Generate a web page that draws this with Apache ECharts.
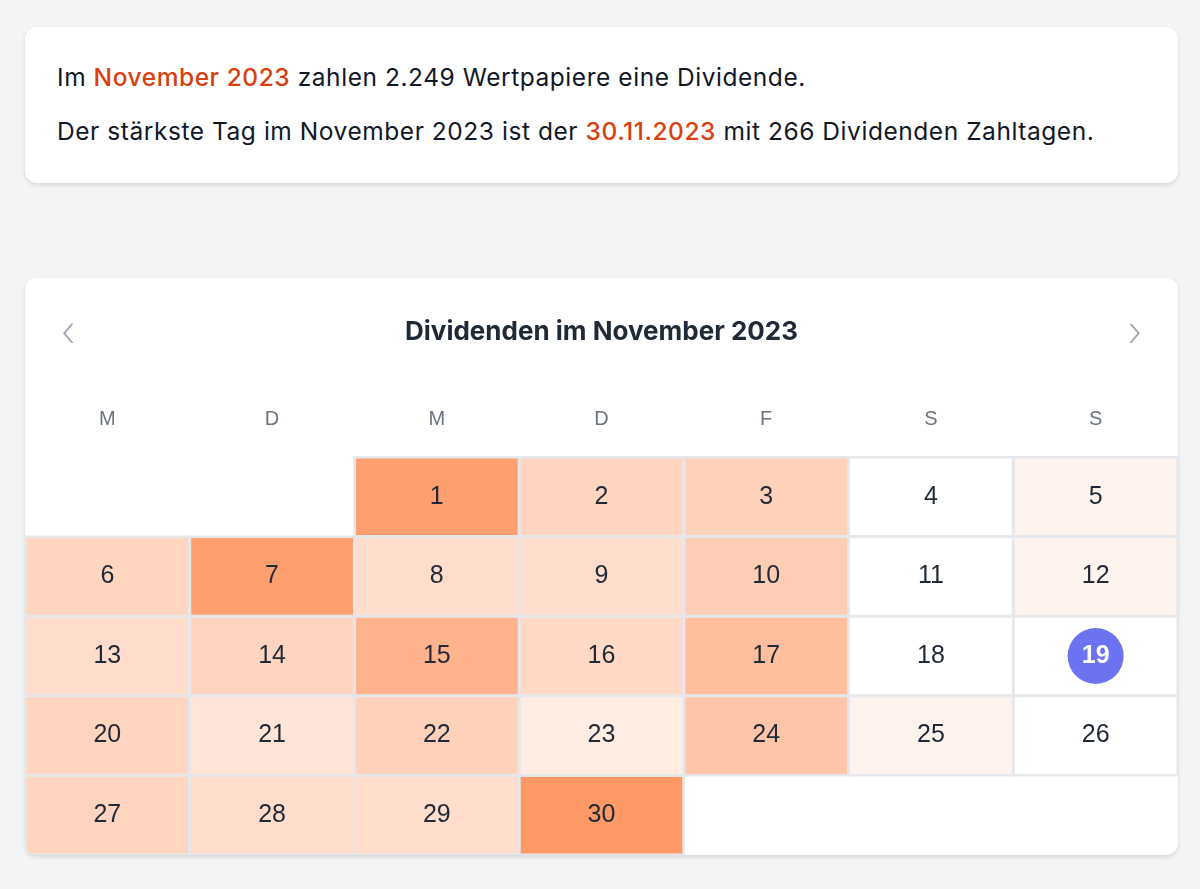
<!DOCTYPE html>
<html>
<head>
<meta charset="utf-8">
<script src="https://cdn.jsdelivr.net/npm/echarts@6/dist/echarts.min.js"></script>
<style>
  body { margin:0; background:#f3f4f6; font-family:Inter, "Noto Sans", sans-serif; width:1200px; height:889px; overflow:hidden; }
  .card { position:absolute; left:25px; width:1153px; background:#fff; border-radius:12px; box-shadow:0 2px 4px rgba(0,0,0,0.12); }
  .info { top:27px; height:156px; font-size:24.5px; color:#111827; letter-spacing:0.55px; }
  .info p { margin:0; position:absolute; left:32px; white-space:nowrap; }
  .hl { color:#d9400f; font-weight:500; }
  .cal { top:278px; height:577px; overflow:hidden; }
  #chart { position:absolute; left:0; top:0; width:1153px; height:577px; }
  .arrow { position:absolute; top:27px; font-size:42px; color:#9ca3af; font-weight:200; }
</style>
</head>
<body>
<div class="card info">
  <p style="top:35px">Im <span class="hl">November 2023</span> zahlen 2.249 Wertpapiere eine Dividende.</p>
  <p style="top:89px">Der stärkste Tag im November 2023 ist der <span class="hl">30.11.2023</span> mit 266 Dividenden Zahltagen.</p>
</div>
<div class="card cal">
  <div id="chart"></div>
  <span class="arrow" style="left:36px">&#8249;</span>
  <span class="arrow" style="right:36px">&#8250;</span>
</div>
<script>
// Werte pro Tag (November 2023), geschätzt aus der Farbintensität
var days = [1,2,3,4,5,6,7,8,9,10,11,12,13,14,15,16,17,18,19,20,21,22,23,24,25,26,27,28,29,30];
var counts = [250,110,120,0,30,110,250,90,90,130,0,30,90,110,200,100,170,0,0,110,70,120,50,150,30,0,110,90,90,266];
var weekdayNames = ['S','M','D','M','D','F','S'];
var today = 19;

function pad(n) { return n < 10 ? '0' + n : '' + n; }
var heatData = days.map(function (d, i) {
    return ['2023-11-' + pad(d), counts[i]];
});

var chart = echarts.init(document.getElementById('chart'));
chart.setOption({
    title: {
        text: 'Dividenden im November 2023',
        left: 'center', top: 36,
        textStyle: { fontSize: 26, fontWeight: 'bold', color: '#1f2937', fontFamily: 'Inter' }
    },
    visualMap: {
        show: false, min: 0, max: 266,
        inRange: { color: ['#ffffff', '#ff9966'] },
        seriesIndex: 0
    },
    calendar: {
        orient: 'vertical',
        left: 0, right: 0, top: 179, bottom: 0,
        cellSize: ['auto', 'auto'],
        range: '2023-11',
        splitLine: { show: false },
        itemStyle: { borderColor: '#e5e7eb', borderWidth: 2, color: '#fff' },
        dayLabel: {
            firstDay: 1, nameMap: weekdayNames, position: 'start', margin: 28,
            fontSize: 20, color: '#6b7280'
        },
        monthLabel: { show: false },
        yearLabel: { show: false }
    },
    series: [{
        type: 'heatmap',
        coordinateSystem: 'calendar',
        data: heatData,
        itemStyle: { borderColor: '#e5e7eb', borderWidth: 1 },
        label: {
            show: true, fontSize: 25, color: '#1f2937',
            formatter: function (p) { return +p.value[0].slice(8); }
        }
    }, {
        type: 'scatter',
        coordinateSystem: 'calendar',
        data: [['2023-11-' + pad(today), 0]],
        symbolSize: 56,
        itemStyle: { color: '#6c72f0', opacity: 1 },
        label: {
            show: true, position: 'inside', fontSize: 25, fontWeight: 'bold', color: '#fff',
            formatter: function () { return today; }
        }
    }]
});
</script>
</body>
</html>
